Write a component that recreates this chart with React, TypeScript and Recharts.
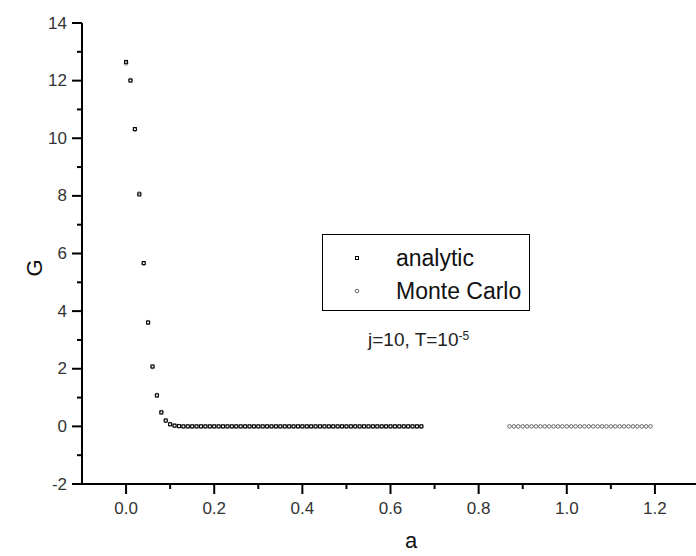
import { ScatterChart, Scatter, XAxis, YAxis } from 'recharts';

const FONT = '"Liberation Sans", Arial, sans-serif';

// a values of the left block (analytic and Monte Carlo overlap there)
const aLeft = [
  0, 0.01, 0.02, 0.03, 0.04, 0.05, 0.06, 0.07, 0.08, 0.09,
  0.1, 0.11, 0.12, 0.13, 0.14, 0.15, 0.16, 0.17, 0.18, 0.19,
  0.2, 0.21, 0.22, 0.23, 0.24, 0.25, 0.26, 0.27, 0.28, 0.29,
  0.3, 0.31, 0.32, 0.33, 0.34, 0.35, 0.36, 0.37, 0.38, 0.39,
  0.4, 0.41, 0.42, 0.43, 0.44, 0.45, 0.46, 0.47, 0.48, 0.49,
  0.5, 0.51, 0.52, 0.53, 0.54, 0.55, 0.56, 0.57, 0.58, 0.59,
  0.6, 0.61, 0.62, 0.63, 0.64, 0.65, 0.66, 0.67,
];
const gAnalytic = [
  12.65, 12.0, 10.32, 8.05, 5.67, 3.6, 2.08, 1.07, 0.48, 0.2,
  0.07, 0.025, 0.008, 0, 0, 0, 0, 0, 0, 0,
  0, 0, 0, 0, 0, 0, 0, 0, 0, 0,
  0, 0, 0, 0, 0, 0, 0, 0, 0, 0,
  0, 0, 0, 0, 0, 0, 0, 0, 0, 0,
  0, 0, 0, 0, 0, 0, 0, 0, 0, 0,
  0, 0, 0, 0, 0, 0, 0, 0,
];
const gMonteLeft = [
  12.6, 12.02, 10.3, 8.08, 5.65, 3.62, 2.06, 1.09, 0.5, 0.21,
  0.08, 0.03, 0.01, 0, 0, 0, 0, 0, 0, 0,
  0, 0, 0, 0, 0, 0, 0, 0, 0, 0,
  0, 0, 0, 0, 0, 0, 0, 0, 0, 0,
  0, 0, 0, 0, 0, 0, 0, 0, 0, 0,
  0, 0, 0, 0, 0, 0, 0, 0, 0, 0,
  0, 0, 0, 0, 0, 0, 0, 0,
];
// right block, Monte Carlo only
const aRight = [
  0.87, 0.88, 0.89, 0.9, 0.91, 0.92, 0.93, 0.94, 0.95, 0.96,
  0.97, 0.98, 0.99, 1.0, 1.01, 1.02, 1.03, 1.04, 1.05, 1.06,
  1.07, 1.08, 1.09, 1.1, 1.11, 1.12, 1.13, 1.14, 1.15, 1.16,
  1.17, 1.18, 1.19,
];
const gRight = [
  0, 0, 0, 0, 0, 0, 0, 0, 0, 0,
  0, 0, 0, 0, 0, 0, 0, 0, 0, 0,
  0, 0, 0, 0, 0, 0, 0, 0, 0, 0,
  0, 0, 0,
];

const xTicks = [-0.1, 0, 0.1, 0.2, 0.3, 0.4, 0.5, 0.6, 0.7, 0.8, 0.9, 1.0, 1.1, 1.2, 1.3];
const yTicks = [-2, -1, 0, 1, 2, 3, 4, 5, 6, 7, 8, 9, 10, 11, 12, 13, 14];

const analytic = aLeft.map((a, i) => ({ a, g: gAnalytic[i] }));
const monte = [
  ...aLeft.map((a, i) => ({ a, g: gMonteLeft[i] })),
  ...aRight.map((a, i) => ({ a, g: gRight[i] })),
];

const Square = (p: any) => (
  <rect x={p.cx - 1.5} y={p.cy - 1.5} width={3} height={3} fill="none" stroke="#000" strokeWidth={1} />
);
const Circle = (p: any) => (
  <circle cx={p.cx} cy={p.cy} r={1.8} fill="none" stroke="#555" strokeWidth={0.9} />
);

const YTick = (p: any) => {
  const v = p.payload.value;
  const major = v % 2 === 0;
  return (
    <g>
      <line x1={p.x} x2={p.x - (major ? 10 : 5)} y1={p.y} y2={p.y} stroke="#000" strokeWidth={2} />
      {major && (
        <text x={p.x - 15} y={p.y} textAnchor="end" dominantBaseline="central" fontSize={17} fontFamily={FONT} fill="#333">
          {v}
        </text>
      )}
    </g>
  );
};

const XTick = (p: any) => {
  const v = p.payload.value;
  if (v < 0) return <g />;
  const major = Math.round(v * 10) % 2 === 0;
  return (
    <g>
      <line x1={p.x} x2={p.x} y1={p.y} y2={p.y + (major ? 10 : 5)} stroke="#000" strokeWidth={2} />
      {major && (
        <text x={p.x} y={p.y + 24} textAnchor="middle" dominantBaseline="central" fontSize={17} fontFamily={FONT} fill="#333">
          {v.toFixed(1)}
        </text>
      )}
    </g>
  );
};

export default function App() {
  return (
    <div style={{ position: 'absolute', left: 0, top: 0, width: 696, height: 556, overflow: 'hidden', background: '#fff', fontFamily: FONT }}>
      <ScatterChart width={700} height={556} margin={{ top: 23, right: 1, bottom: 42, left: 0 }}>
        <XAxis
          type="number"
          dataKey="a"
          domain={[-0.1, 1.3]}
          ticks={xTicks}
          interval={0}
          tickSize={0}
          tickMargin={0}
          height={30}
          axisLine={{ stroke: '#000', strokeWidth: 2 }}
          tick={<XTick />}
        />
        <YAxis
          type="number"
          dataKey="g"
          domain={[-2, 14]}
          ticks={yTicks}
          interval={0}
          tickSize={0}
          tickMargin={0}
          width={82}
          axisLine={{ stroke: '#000', strokeWidth: 2 }}
          tick={<YTick />}
        />
        <Scatter name="Monte Carlo" data={monte} shape={<Circle />} isAnimationActive={false} />
        <Scatter name="analytic" data={analytic} shape={<Square />} isAnimationActive={false} />
      </ScatterChart>

      {/* axis titles */}
      <div style={{ position: 'absolute', left: 35, top: 268, transform: 'translate(-50%, -50%) rotate(-90deg)', fontSize: 22, color: '#111' }}>G</div>
      <div style={{ position: 'absolute', left: 411, top: 541, transform: 'translate(-50%, -50%)', fontSize: 22, color: '#111' }}>a</div>

      {/* legend */}
      <div style={{ position: 'absolute', left: 322, top: 234, width: 208, height: 77, border: '1px solid #000', boxSizing: 'border-box' }}>
        <svg style={{ position: 'absolute', left: 0, top: 0 }} width={206} height={75}>
          <rect x={32.5} y={21.5} width={3} height={3} fill="none" stroke="#000" strokeWidth={1} />
          <circle cx={34} cy={56} r={1.8} fill="none" stroke="#555" strokeWidth={0.9} />
        </svg>
        <div style={{ position: 'absolute', left: 73, top: 10, fontSize: 23, lineHeight: '26px', color: '#111' }}>analytic</div>
        <div style={{ position: 'absolute', left: 73, top: 43, fontSize: 23, lineHeight: '26px', color: '#111' }}>Monte Carlo</div>
      </div>

      {/* annotation */}
      <div style={{ position: 'absolute', left: 368, top: 329, fontSize: 19, lineHeight: '22px', color: '#222', whiteSpace: 'nowrap' }}>
        j=10, T=10<span style={{ fontSize: 12, position: 'relative', top: -6 }}>-5</span>
      </div>
    </div>
  );
}
